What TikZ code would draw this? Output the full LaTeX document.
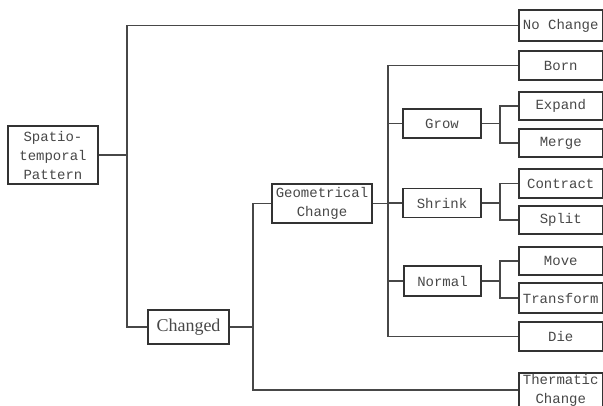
\documentclass[tikz,border=0pt]{standalone}
\usepackage{fontspec}
\setmainfont{Liberation Mono}
\newfontfamily\serifchg{Liberation Serif}
\begin{document}
\begin{tikzpicture}[x=1pt,y=-1pt,
  conn/.style={draw=black!72,line width=1.2pt},
  bx/.style={draw=black!80,line width=1.2pt,rectangle,inner sep=0pt,
    text=black!72,font=\fontsize{14}{19}\selectfont,align=center},
  rbox/.style={bx,minimum width=83.5pt,minimum height=29pt},
  mbox/.style={bx,minimum width=78pt,minimum height=29pt}]
\useasboundingbox (0,0) rectangle (603,406);
% nodes
\node[bx,minimum width=90pt,minimum height=58pt] (sp) at (53,155) {Spatio-\\temporal\\Pattern};
\node[bx,minimum width=81pt,minimum height=34pt,font=\serifchg\fontsize{18}{20}\selectfont] (changed) at (188.5,327) {Changed};
\node[bx,minimum width=100pt,minimum height=39pt] (geo) at (322,203.5) {Geometrical\\Change};
\node[rbox,minimum height=31pt] (nochange) at (560.75,25.5) {No Change};
\node[rbox,minimum height=34pt] (therm) at (560.75,390) {Thermatic\\Change};
\node[rbox] (born) at (560.75,65.5) {Born};
\node[rbox,minimum height=28pt] (expand) at (560.75,106) {Expand};
\node[rbox,minimum height=28pt] (merge) at (560.75,143) {Merge};
\node[rbox] (contract) at (560.75,183.5) {Contract};
\node[rbox,minimum height=28pt] (split) at (560.75,220) {Split};
\node[rbox,minimum height=28pt] (move) at (560.75,261) {Move};
\node[rbox,minimum height=30pt] (transform) at (560.75,298) {Transform};
\node[rbox] (die) at (560.75,336.5) {Die};
\node[mbox] (grow) at (442,123.5) {Grow};
\node[mbox] (shrink) at (442,203) {Shrink};
\node[mbox,minimum width=77pt,minimum height=30pt] (normal) at (442.5,281) {Normal};
% junctions
\coordinate (j1) at (127,155);
\coordinate (j2) at (253,327);
\coordinate (j3) at (388,203.5);
\coordinate (jg) at (500,123.5);
\coordinate (js) at (500,203);
\coordinate (jn) at (500,281);
% connectors
\draw[conn] (sp.east) -- (j1);
\draw[conn] (nochange.west) -| (j1) |- (changed.west);
\draw[conn] (changed.east) -- (j2);
\draw[conn] (geo.west) -| (j2) |- (therm.west);
\draw[conn] (geo.east) -- (j3);
\draw[conn] (born.west) -| (j3) |- (die.west);
\draw[conn] (grow.west) -- (grow.west -| j3);
\draw[conn] (shrink.west) -- (shrink.west -| j3);
\draw[conn] (normal.west) -- (normal.west -| j3);
\draw[conn] (grow.east) -- (jg);
\draw[conn] (expand.west) -| (jg) |- (merge.west);
\draw[conn] (shrink.east) -- (js);
\draw[conn] (contract.west) -| (js) |- (split.west);
\draw[conn] (normal.east) -- (jn);
\draw[conn] (move.west) -| (jn) |- (transform.west);
\end{tikzpicture}
\end{document}
